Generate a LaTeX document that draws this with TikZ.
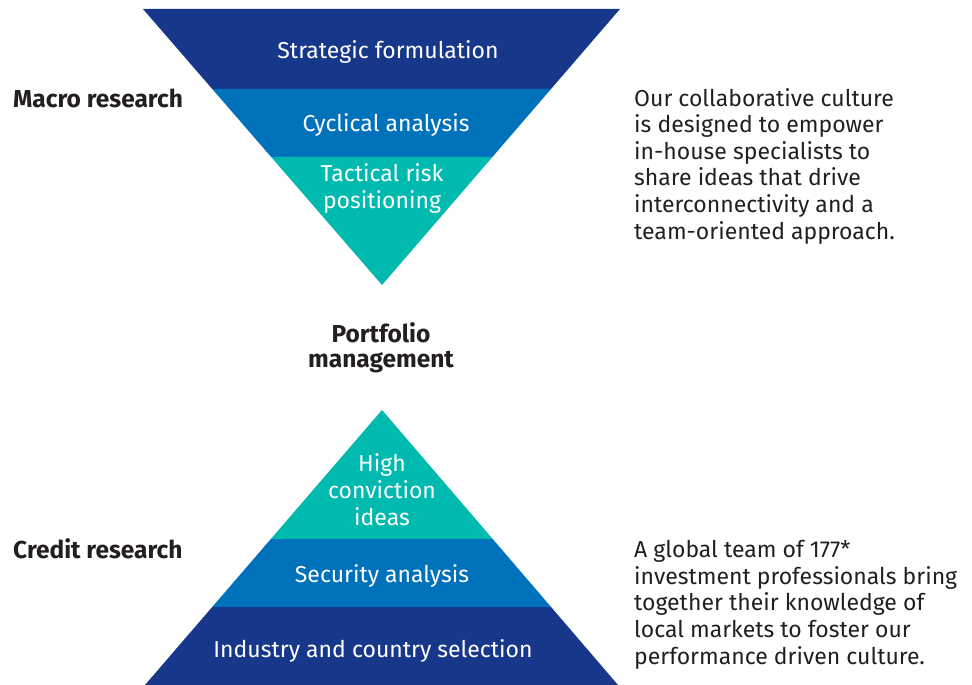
\documentclass[tikz,border=0pt]{standalone}
\usepackage{fontspec}
\setmainfont{Fira Sans}
\usetikzlibrary{calc}
\definecolor{navy}{HTML}{17388A}
\definecolor{midblue}{HTML}{0071BB}
\definecolor{teal}{HTML}{00B9AF}
\definecolor{txt}{HTML}{231F20}
\begin{document}
\begin{tikzpicture}[x=1pt,y=-1pt,
  intext/.style={text=white,font=\fontsize{23}{27}\selectfont,align=center,inner sep=0pt,anchor=base},
  sidetext/.style={text=txt,font=\fontsize{23}{26.6}\selectfont,align=left,anchor=base west,inner sep=0pt},
  boldlabel/.style={text=txt,font=\bfseries\fontsize{24.5}{25}\selectfont,align=center,inner sep=0pt}]
\useasboundingbox (0,0) rectangle (972,685);
% top inverted triangle
\coordinate (tl) at (143,9);
\coordinate (tr) at (620,9);
\coordinate (ta) at (382,285);
\fill[navy] (tl) -- (tr) -- ($(tr)!{80/276}!(ta)$) -- ($(tl)!{80/276}!(ta)$) -- cycle;
\fill[midblue] ($(tl)!{80/276}!(ta)$) -- ($(tr)!{80/276}!(ta)$) -- ($(tr)!{148/276}!(ta)$) -- ($(tl)!{148/276}!(ta)$) -- cycle;
\fill[teal] ($(tl)!{148/276}!(ta)$) -- ($(tr)!{148/276}!(ta)$) -- (ta) -- cycle;
\node[intext] (sf) at (388,59) {Strategic formulation};
\node[intext] (ca) at (386,131) {Cyclical analysis};
\node[intext] (tr1) at (382,208) {Tactical risk\\positioning};
% bottom triangle
\coordinate (bl) at (145,685);
\coordinate (br) at (618,685);
\coordinate (ba) at (382,410);
\fill[teal] (ba) -- ($(ba)!{129/275}!(br)$) -- ($(ba)!{129/275}!(bl)$) -- cycle;
\fill[midblue] ($(ba)!{129/275}!(bl)$) -- ($(ba)!{129/275}!(br)$) -- ($(ba)!{197/275}!(br)$) -- ($(ba)!{197/275}!(bl)$) -- cycle;
\fill[navy] ($(ba)!{197/275}!(bl)$) -- ($(ba)!{197/275}!(br)$) -- (br) -- (bl) -- cycle;
\node[intext] (hc) at (382,525) {High\\conviction\\ideas};
\node[intext] (sa) at (382,582) {Security analysis};
\node[intext] (ic) at (373,657) {Industry and country selection};
% labels
\node[boldlabel,anchor=base west] (mr) at (13,107) {Macro research};
\node[boldlabel,anchor=base west] (cr) at (13,558) {Credit research};
\node[boldlabel,anchor=base] (pm) at (381,367) {Portfolio\\management};
% side texts
\node[sidetext] (t1) at (634,239) {Our collaborative culture\\is designed to empower\\in-house specialists to\\share ideas that drive\\interconnectivity and a\\team-oriented approach.};
\node[sidetext] (t2) at (634,664) {A global team of 177*\\investment professionals bring\\together their knowledge of\\local markets to foster our\\performance driven culture.};
\end{tikzpicture}
\end{document}
